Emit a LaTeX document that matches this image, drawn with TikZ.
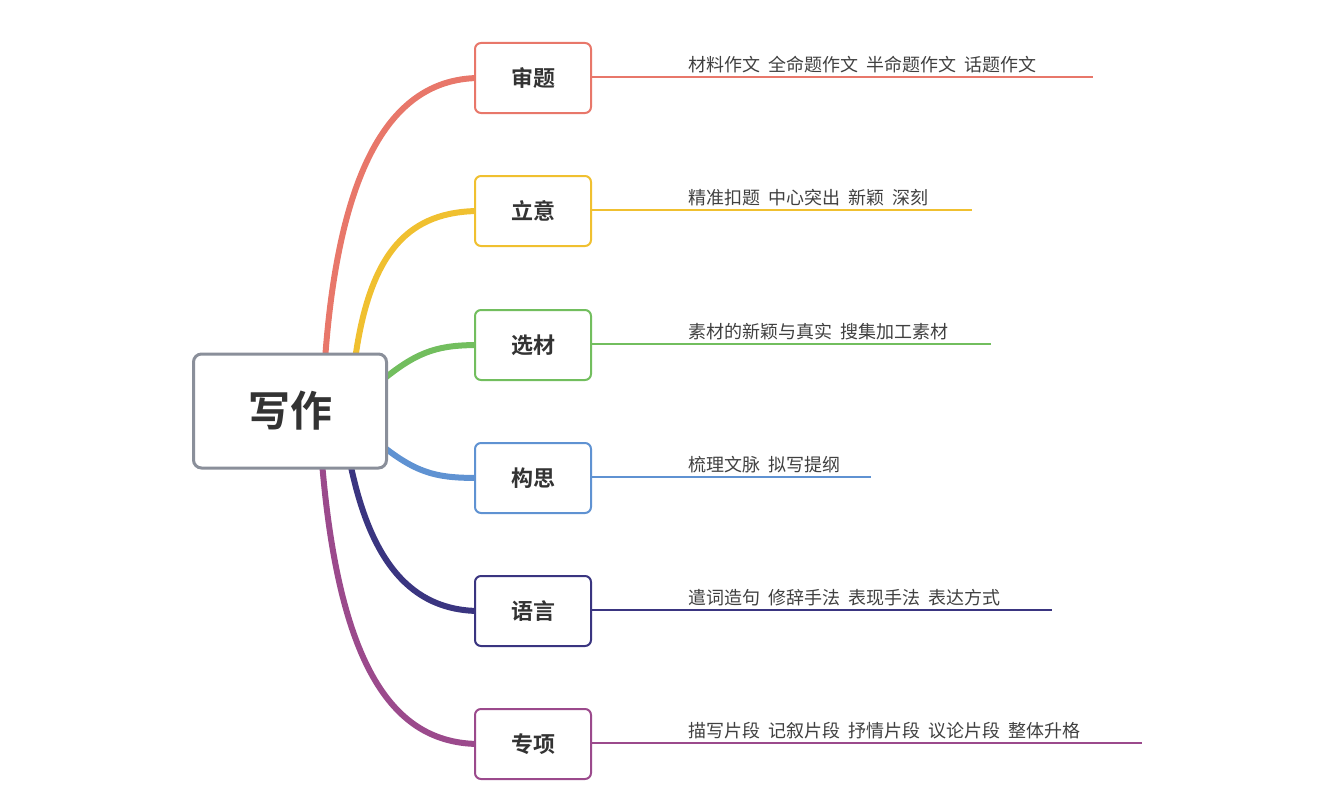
\documentclass[tikz,border=0pt]{standalone}
\usepackage{fontspec}
\newfontfamily\cjk{Noto Sans CJK SC}
\newfontfamily\cjkb{Noto Sans CJK SC Bold}
\definecolor{cA}{HTML}{E8776A}
\definecolor{cB}{HTML}{F0C030}
\definecolor{cC}{HTML}{72BE5E}
\definecolor{cD}{HTML}{5F92D2}
\definecolor{cE}{HTML}{3A3580}
\definecolor{cF}{HTML}{9B4A8C}
\definecolor{cG}{HTML}{8A8F9A}
\begin{document}
\begin{tikzpicture}[x=1pt,y=-1pt,
 br/.style={draw=#1,line width=2pt,rounded corners=6pt,fill=white,minimum width=116pt,minimum height=70pt,font=\cjkb\fontsize{22}{22}\selectfont,text=black!80},
 cv/.style={draw=#1,line width=6pt,line cap=round},
 ln/.style={draw=#1,line width=2pt},
 lf/.style={anchor=south west,font=\cjk\fontsize{18}{18}\selectfont,text=black!75,inner sep=2pt}]
\useasboundingbox (0,0) rectangle (1333,800);
\coordinate (sA) at (325,360); \coordinate (sB) at (355,360);
\coordinate (sC) at (385,378); \coordinate (sD) at (385,448);
\coordinate (sE) at (350,462); \coordinate (sF) at (322,462);
\draw[cv=cA] (sA) .. controls (340,150) and (400,78) .. (480,78);
\draw[cv=cB] (sB) .. controls (370,250) and (410,211) .. (480,211);
\draw[cv=cC] (sC) .. controls (420,350) and (440,345) .. (480,345);
\draw[cv=cD] (sD) .. controls (420,475) and (440,478) .. (480,478);
\draw[cv=cE] (sE) .. controls (370,560) and (410,611) .. (480,611);
\draw[cv=cF] (sF) .. controls (340,680) and (400,744) .. (480,744);
\node[draw=cG,line width=3pt,rounded corners=8pt,fill=white,minimum width=193pt,minimum height=114pt,font=\cjkb\fontsize{42}{42}\selectfont,text=black!80] (c) at (290,411) {写作};
\node[br=cA] (a) at (533,78) {审题};
\node[br=cB] (b) at (533,211) {立意};
\node[br=cC] (cc) at (533,345) {选材};
\node[br=cD] (d) at (533,478) {构思};
\node[br=cE] (e) at (533,611) {语言};
\node[br=cF] (f) at (533,744) {专项};
\coordinate (eA) at (1093,77); \coordinate (eB) at (972,210);
\coordinate (eC) at (991,344); \coordinate (eD) at (871,477);
\coordinate (eE) at (1052,610); \coordinate (eF) at (1142,743);
\draw[ln=cA] (a.east|-eA) -- (eA);
\draw[ln=cB] (b.east|-eB) -- (eB);
\draw[ln=cC] (cc.east|-eC) -- (eC);
\draw[ln=cD] (d.east|-eD) -- (eD);
\draw[ln=cE] (e.east|-eE) -- (eE);
\draw[ln=cF] (f.east|-eF) -- (eF);
\node[lf] (ta) at (686,75) {材料作文\ \ 全命题作文\ \ 半命题作文\ \ 话题作文};
\node[lf] (tb) at (686,208) {精准扣题\ \ 中心突出\ \ 新颖\ \ 深刻};
\node[lf] (tc) at (686,342) {素材的新颖与真实\ \ 搜集加工素材};
\node[lf] (td) at (686,475) {梳理文脉\ \ 拟写提纲};
\node[lf] (te) at (686,608) {遣词造句\ \ 修辞手法\ \ 表现手法\ \ 表达方式};
\node[lf] (tf) at (686,741) {描写片段\ \ 记叙片段\ \ 抒情片段\ \ 议论片段\ \ 整体升格};
\end{tikzpicture}
\end{document}
